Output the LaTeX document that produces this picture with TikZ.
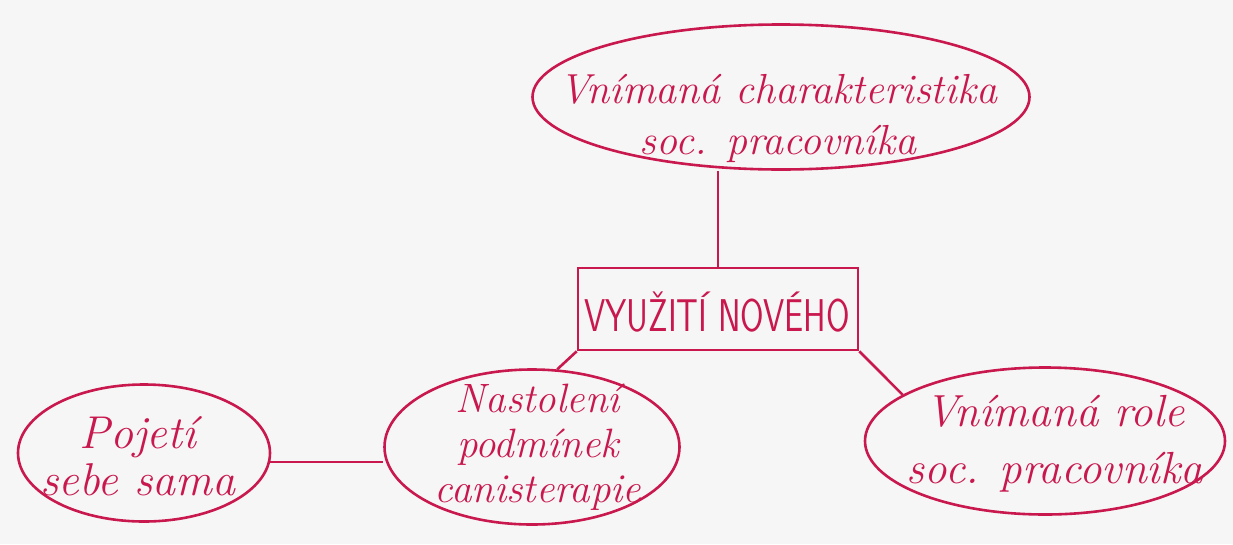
\documentclass[tikz,border=0pt]{standalone}
\usepackage{fontspec}
\usetikzlibrary{shapes.geometric}
\definecolor{ink}{HTML}{C8184E}
\definecolor{paper}{HTML}{F6F6F6}
\tikzset{
  pen/.style={draw=ink, line width=2.6pt},
  bubble/.style={pen, ellipse, inner sep=0pt},
  framebox/.style={pen, rectangle, inner sep=0pt},
  hand/.style={text=ink, align=center, inner sep=0pt},
  caps/.style={text=ink, inner sep=0pt, font=\sffamily\fontsize{34}{38}\selectfont},
}
\begin{document}
\begin{tikzpicture}[x=1pt, y=-1pt]
  \fill[paper] (0,0) rectangle (1233,544);
  \useasboundingbox (0,0) rectangle (1233,544);

  % shapes
  \node[bubble, minimum width=497pt, minimum height=145pt] (top) at (781,97) {};
  \node[framebox, minimum width=280pt, minimum height=82pt] (core) at (718,309) {};
  \node[bubble, minimum width=252pt, minimum height=137pt] (self) at (144,453) {};
  \node[bubble, minimum width=295pt, minimum height=155pt] (cond) at (532,447) {};
  \node[bubble, minimum width=360pt, minimum height=147pt] (role) at (1045,441) {};

  % texts
  \node[hand, font=\itshape\fontsize{42}{51}\selectfont] (topT) at (778,118)
    {Vnímaná charakteristika\\soc. pracovníka};
  \node[caps] (coreT) at (717,312) {\scalebox{1}[1.35]{VYUŽITÍ NOVÉHO}};
  \node[hand, font=\itshape\fontsize{46}{47}\selectfont] (selfT) at (138,456)
    {Pojetí\\sebe sama};
  \node[hand, font=\itshape\fontsize{41}{45}\selectfont] (condT) at (538,447)
    {Nastolení\\podmínek\\canisterapie};
  \node[hand, font=\itshape\fontsize{45}{57}\selectfont] (roleT) at (1055,444)
    {Vnímaná role\\soc. pracovníka};

  % connectors
  \draw[pen] (core.north) -- (core.north |- top.south);
  \draw[pen] (core.south west) -- (cond.72);
  \draw[pen] (core.south east) -- (role.162);
  \draw[pen] (self.-4) -- (cond.west |- self.-4);
\end{tikzpicture}
\end{document}
